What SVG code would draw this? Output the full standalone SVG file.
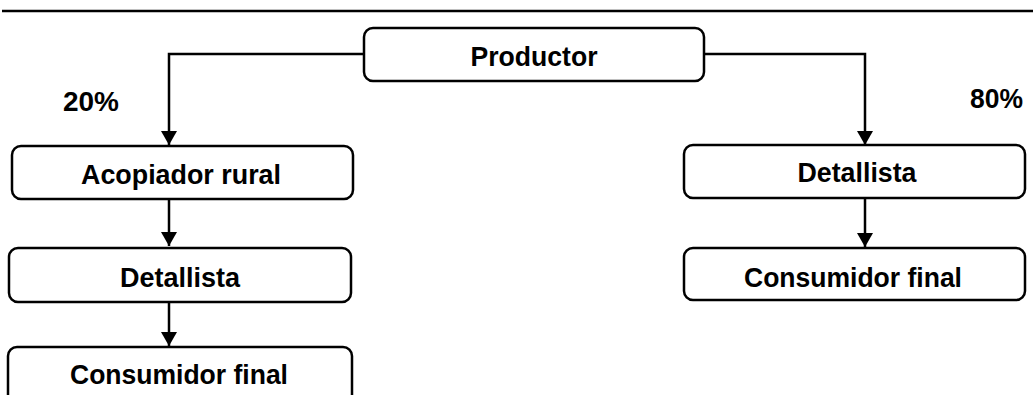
<svg xmlns="http://www.w3.org/2000/svg" width="1033" height="395" viewBox="0 0 1033 395">
<style>
.box{fill:#fff;stroke:#000;stroke-width:2.5}
.lbl{font-family:"Liberation Sans",Arial,sans-serif;font-weight:bold;font-size:28px;fill:#000;text-anchor:middle}
.pct{font-family:"Liberation Sans",Arial,sans-serif;font-weight:bold;font-size:27px;fill:#000}
.con{fill:none;stroke:#000;stroke-width:2.5}
</style>
<defs>
<marker id="ah" markerWidth="16" markerHeight="16" refX="14" refY="8" orient="auto" markerUnits="userSpaceOnUse">
<path d="M0,0 L14,8 L0,16 Z" fill="#000"/>
</marker>
</defs>
<rect width="1033" height="395" fill="#fff"/>
<line x1="2" y1="11" x2="1033" y2="11" stroke="#000" stroke-width="2.5"/>
<g id="connectors">
<path class="con" d="M364,54 H169 V145" marker-end="url(#ah)"/>
<path class="con" d="M704,54 H865 V145" marker-end="url(#ah)"/>
<path class="con" d="M169,199 V246" marker-end="url(#ah)"/>
<path class="con" d="M169,302 V346" marker-end="url(#ah)"/>
<path class="con" d="M865,198 V247" marker-end="url(#ah)"/>
</g>
<g id="productor"><rect class="box" x="364" y="28" width="340" height="53" rx="9"/><text class="lbl" x="534" y="66" textLength="127" lengthAdjust="spacingAndGlyphs">Productor</text></g>
<g id="acopiador"><rect class="box" x="12" y="146" width="341" height="53" rx="9"/><text class="lbl" x="181" y="184" textLength="200" lengthAdjust="spacingAndGlyphs">Acopiador rural</text></g>
<g id="detallista-izq"><rect class="box" x="9" y="248" width="342" height="54" rx="9"/><text class="lbl" x="180" y="287" textLength="120" lengthAdjust="spacingAndGlyphs">Detallista</text></g>
<g id="consumidor-izq"><rect class="box" x="8" y="347" width="344" height="60" rx="9"/><text class="lbl" x="179" y="384" textLength="218" lengthAdjust="spacingAndGlyphs">Consumidor final</text></g>
<g id="detallista-der"><rect class="box" x="684" y="145" width="341" height="53" rx="9"/><text class="lbl" x="857" y="182" textLength="119" lengthAdjust="spacingAndGlyphs">Detallista</text></g>
<g id="consumidor-der"><rect class="box" x="684" y="248" width="341" height="52" rx="9"/><text class="lbl" x="853" y="287" textLength="218" lengthAdjust="spacingAndGlyphs">Consumidor final</text></g>
<text class="pct" x="63" y="111" textLength="56" lengthAdjust="spacingAndGlyphs">20%</text>
<text class="pct" x="970" y="108" textLength="53" lengthAdjust="spacingAndGlyphs">80%</text>
</svg>
